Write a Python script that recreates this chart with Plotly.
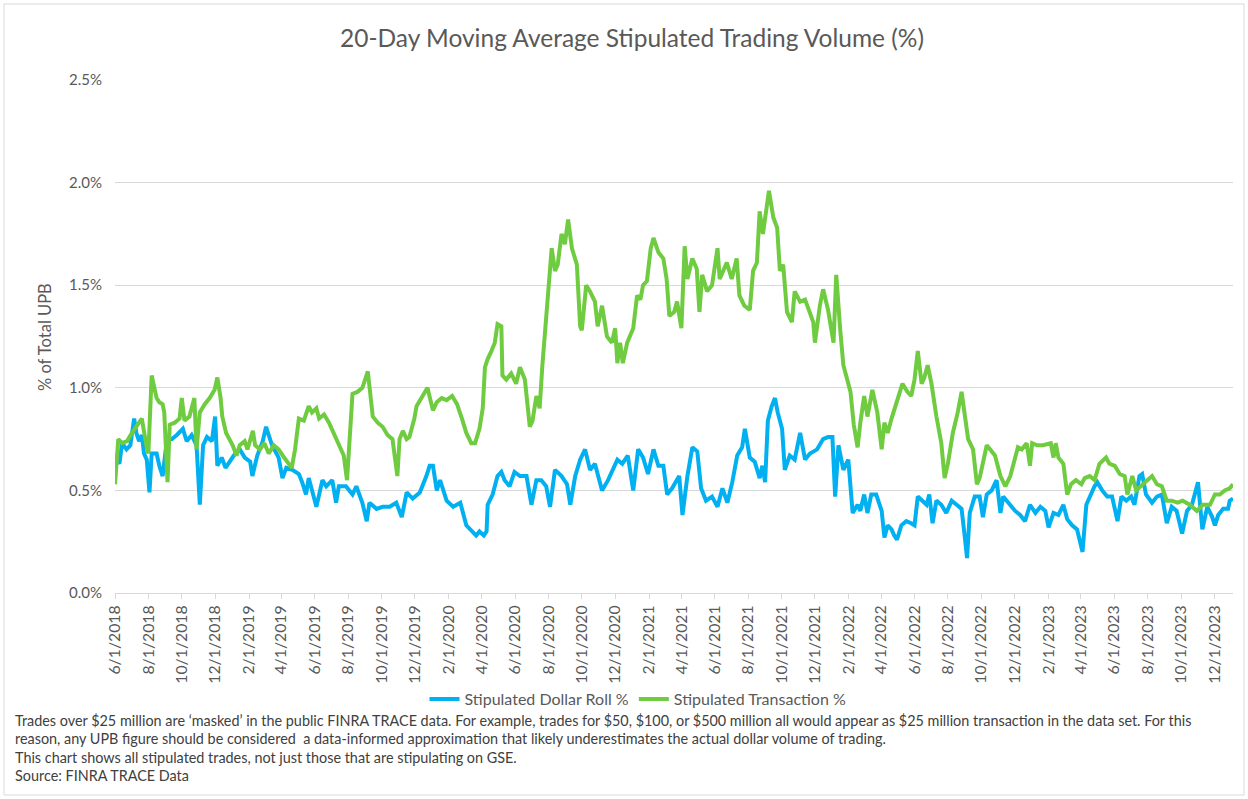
import plotly.graph_objects as go

# ---------------- data (values in %) ----------------
transaction_dates = [
    "2018-06-01","2018-06-07","2018-06-14","2018-06-23","2018-07-02","2018-07-20","2018-07-29","2018-08-01","2018-08-07","2018-08-10","2018-08-16","2018-08-21","2018-08-27","2018-08-30",
    "2018-09-04","2018-09-05","2018-09-09","2018-09-18","2018-09-27","2018-10-01","2018-10-06","2018-10-15","2018-10-24","2018-10-28","2018-11-03","2018-11-12","2018-11-21","2018-11-30",
    "2018-12-05","2018-12-11","2018-12-14","2018-12-21",
    "2019-01-02","2019-01-09","2019-01-15","2019-01-24","2019-01-29","2019-02-08","2019-02-12","2019-02-21","2019-03-01","2019-03-09","2019-03-18","2019-03-27",
    "2019-04-06","2019-04-15","2019-04-20","2019-04-26","2019-05-03","2019-05-12","2019-05-21","2019-05-27","2019-06-04","2019-06-09","2019-06-18","2019-06-27",
    "2019-07-06","2019-07-15","2019-07-24","2019-07-30","2019-08-03","2019-08-09","2019-08-18","2019-08-27","2019-09-06","2019-09-11","2019-09-15","2019-09-24",
    "2019-10-03","2019-10-12","2019-10-21","2019-10-30","2019-11-03","2019-11-09","2019-11-16","2019-11-21","2019-11-30","2019-12-04","2019-12-13","2019-12-24",
    "2020-01-03","2020-01-10","2020-01-19","2020-01-28","2020-02-07","2020-02-16","2020-02-25","2020-03-04","2020-03-13","2020-03-20","2020-03-28",
    "2020-04-03","2020-04-07","2020-04-12","2020-04-19","2020-04-25","2020-04-30","2020-05-07","2020-05-09","2020-05-16","2020-05-25",
    "2020-06-03","2020-06-10","2020-06-19","2020-06-28","2020-07-03","2020-07-10","2020-07-16","2020-07-21","2020-07-25","2020-07-30",
    "2020-08-07","2020-08-13","2020-08-18","2020-08-25","2020-08-31","2020-09-06","2020-09-13","2020-09-22","2020-09-28",
    "2020-10-01","2020-10-09","2020-10-16","2020-10-25","2020-10-30","2020-11-07","2020-11-16","2020-11-25","2020-12-01","2020-12-05","2020-12-10","2020-12-15","2020-12-23",
    "2021-01-03","2021-01-10","2021-01-16","2021-01-21","2021-01-28","2021-02-04","2021-02-09","2021-02-18","2021-02-27","2021-03-05","2021-03-10","2021-03-19","2021-03-24",
    "2021-04-01","2021-04-07","2021-04-12","2021-04-21","2021-04-29","2021-05-04","2021-05-09","2021-05-18","2021-05-27","2021-06-06","2021-06-10","2021-06-23",
    "2021-07-02","2021-07-11","2021-07-16","2021-07-25","2021-08-04","2021-08-10","2021-08-17","2021-08-22","2021-08-28","2021-09-05","2021-09-08","2021-09-16","2021-09-23","2021-09-28",
    "2021-10-04","2021-10-11","2021-10-20","2021-10-25","2021-11-04","2021-11-13","2021-11-22","2021-11-28","2021-12-01","2021-12-10","2021-12-16","2021-12-25",
    "2022-01-04","2022-01-09","2022-01-16","2022-01-22","2022-01-29","2022-02-04","2022-02-10","2022-02-17","2022-02-22","2022-03-01","2022-03-07","2022-03-16","2022-03-25",
    "2022-04-02","2022-04-07","2022-04-13","2022-04-20","2022-04-29","2022-05-10","2022-05-19","2022-05-26","2022-06-01","2022-06-07","2022-06-14","2022-06-19","2022-06-25",
    "2022-07-02","2022-07-11","2022-07-20","2022-07-26","2022-08-01","2022-08-10","2022-08-19","2022-08-26","2022-09-01","2022-09-07","2022-09-16","2022-09-23","2022-09-28",
    "2022-10-04","2022-10-11","2022-10-17","2022-10-26","2022-11-05","2022-11-14","2022-11-23","2022-12-02","2022-12-07","2022-12-14","2022-12-23","2022-12-29",
    "2023-01-02","2023-01-11","2023-01-22","2023-02-05","2023-02-10","2023-02-14","2023-02-19","2023-02-28","2023-03-07","2023-03-14","2023-03-23",
    "2023-04-02","2023-04-08","2023-04-17","2023-04-26","2023-05-05","2023-05-17","2023-05-23","2023-06-02","2023-06-11","2023-06-20","2023-06-25",
    "2023-07-04","2023-07-11","2023-07-20","2023-07-29","2023-08-09","2023-08-18","2023-08-27","2023-09-05","2023-09-14","2023-09-25",
    "2023-10-04","2023-10-17","2023-10-30","2023-11-10","2023-11-23","2023-12-02","2023-12-11","2023-12-20","2023-12-29","2024-01-04",
]
transaction_pct = [
    0.53,0.75,0.73,0.74,0.78,0.85,0.71,0.68,1.06,1.02,0.95,0.93,0.92,0.88,
    0.60,0.54,0.82,0.83,0.85,0.95,0.84,0.86,0.95,0.70,0.88,0.92,0.95,0.99,
    1.05,0.95,0.86,0.78,
    0.72,0.67,0.72,0.74,0.70,0.79,0.72,0.70,0.73,0.68,0.72,0.70,
    0.66,0.63,0.61,0.70,0.85,0.84,0.91,0.88,0.90,0.85,0.87,0.83,
    0.78,0.73,0.67,0.55,0.75,0.97,0.98,1.00,1.08,0.96,0.86,0.83,
    0.81,0.77,0.75,0.57,0.75,0.79,0.75,0.76,0.85,0.91,0.95,1.00,
    0.89,0.93,0.95,0.94,0.96,0.92,0.85,0.78,0.73,0.73,0.80,
    0.90,1.10,1.14,1.18,1.22,1.31,1.30,1.06,1.04,1.07,
    1.02,1.10,1.04,0.81,0.84,0.96,0.90,1.11,1.24,1.40,
    1.68,1.57,1.60,1.75,1.70,1.82,1.68,1.60,1.30,
    1.28,1.50,1.47,1.42,1.30,1.40,1.25,1.22,1.29,1.12,1.22,1.12,1.22,
    1.29,1.45,1.43,1.50,1.52,1.68,1.73,1.66,1.63,1.53,1.35,1.37,1.42,
    1.29,1.69,1.53,1.63,1.58,1.37,1.55,1.47,1.50,1.68,1.53,1.61,
    1.53,1.63,1.45,1.40,1.38,1.57,1.61,1.86,1.75,1.90,1.96,1.83,1.78,1.57,
    1.60,1.37,1.32,1.47,1.42,1.43,1.37,1.32,1.22,1.40,1.48,1.38,
    1.22,1.55,1.29,1.11,1.04,0.98,0.82,0.71,0.83,0.96,0.86,0.99,0.88,
    0.70,0.83,0.78,0.85,0.92,1.02,0.98,0.96,1.04,1.18,1.02,1.05,1.11,
    1.02,0.86,0.73,0.56,0.63,0.78,0.88,0.98,0.88,0.75,0.70,0.53,0.56,
    0.63,0.72,0.70,0.67,0.57,0.52,0.57,0.65,0.71,0.70,0.73,0.62,
    0.73,0.72,0.72,0.73,0.66,0.73,0.66,0.63,0.48,0.53,0.55,
    0.53,0.56,0.57,0.55,0.63,0.66,0.63,0.62,0.58,0.57,0.48,
    0.57,0.50,0.52,0.54,0.57,0.53,0.52,0.45,0.45,0.44,
    0.45,0.43,0.40,0.43,0.43,0.48,0.48,0.50,0.51,0.53,
]

dollar_roll_dates = [
    "2018-06-01","2018-06-09","2018-06-14","2018-06-22","2018-06-29","2018-07-06","2018-07-10","2018-07-15","2018-07-20","2018-07-24","2018-07-29",
    "2018-08-03","2018-08-07","2018-08-16","2018-08-21","2018-08-27","2018-09-04","2018-09-13","2018-09-22","2018-10-03","2018-10-10","2018-10-19","2018-10-28",
    "2018-11-03","2018-11-09","2018-11-16","2018-11-25","2018-12-01","2018-12-05","2018-12-13","2018-12-20","2018-12-27",
    "2019-01-04","2019-01-15","2019-01-24","2019-02-03","2019-02-07","2019-02-16","2019-02-26","2019-03-04","2019-03-15","2019-03-27",
    "2019-04-03","2019-04-10","2019-04-21","2019-05-03","2019-05-09","2019-05-16","2019-05-21","2019-06-04","2019-06-15","2019-06-22",
    "2019-07-03","2019-07-10","2019-07-15","2019-07-28","2019-08-09","2019-08-16","2019-08-27","2019-09-04","2019-09-09","2019-09-22",
    "2019-10-03","2019-10-16","2019-10-28","2019-11-07","2019-11-16","2019-11-27","2019-12-10","2019-12-22","2019-12-28",
    "2020-01-03","2020-01-10","2020-01-16","2020-01-28","2020-02-09","2020-02-22","2020-03-04","2020-03-15","2020-03-22","2020-03-28",
    "2020-04-05","2020-04-10","2020-04-12","2020-04-21","2020-04-30","2020-05-07","2020-05-13","2020-05-22","2020-05-31",
    "2020-06-10","2020-06-22","2020-07-01","2020-07-10","2020-07-19","2020-07-28","2020-08-04","2020-08-13","2020-08-25",
    "2020-09-04","2020-09-10","2020-09-19","2020-09-28","2020-10-07","2020-10-16","2020-10-25","2020-11-07","2020-11-18","2020-12-05","2020-12-14","2020-12-24",
    "2021-01-03","2021-01-12","2021-01-21","2021-01-30","2021-02-09","2021-02-18","2021-02-27","2021-03-06","2021-03-15","2021-03-28",
    "2021-04-03","2021-04-12","2021-04-21","2021-04-30","2021-05-07","2021-05-16","2021-05-27","2021-06-06","2021-06-15","2021-06-24",
    "2021-07-03","2021-07-12","2021-07-21","2021-07-26","2021-08-04","2021-08-13","2021-08-22","2021-08-27",
    "2021-09-01","2021-09-06","2021-09-13","2021-09-19","2021-09-24","2021-10-02","2021-10-07","2021-10-16","2021-10-25",
    "2021-11-04","2021-11-13","2021-11-22","2021-12-05","2021-12-16","2021-12-25",
    "2022-01-02","2022-01-07","2022-01-13","2022-01-22","2022-01-31","2022-02-08","2022-02-17","2022-02-22","2022-03-01","2022-03-07","2022-03-14","2022-03-23",
    "2022-04-02","2022-04-07","2022-04-13","2022-04-20","2022-04-25","2022-04-30","2022-05-08","2022-05-17","2022-05-26",
    "2022-06-01","2022-06-07","2022-06-14","2022-06-23","2022-06-28","2022-07-04","2022-07-11","2022-07-20","2022-07-29",
    "2022-08-08","2022-08-17","2022-08-26","2022-09-01","2022-09-05","2022-09-10","2022-09-19","2022-09-28",
    "2022-10-04","2022-10-11","2022-10-20","2022-10-29","2022-11-05","2022-11-10","2022-11-23","2022-12-02","2022-12-11","2022-12-20","2022-12-29",
    "2023-01-08","2023-01-17","2023-01-26","2023-02-01","2023-02-10","2023-02-19","2023-02-28","2023-03-07","2023-03-16","2023-03-25",
    "2023-04-04","2023-04-11","2023-04-17","2023-04-26","2023-05-01","2023-05-10","2023-05-19","2023-05-28","2023-06-07","2023-06-14","2023-06-23",
    "2023-07-02","2023-07-08","2023-07-17","2023-07-22","2023-07-29","2023-08-09","2023-08-18","2023-08-27","2023-09-05","2023-09-14","2023-09-23",
    "2023-10-03","2023-10-12","2023-10-21","2023-11-01","2023-11-09","2023-11-18","2023-11-27","2023-12-02","2023-12-08","2023-12-17","2023-12-26","2023-12-29","2024-01-04",
]
dollar_roll_pct = [
    0.67,0.63,0.73,0.70,0.72,0.85,0.78,0.74,0.77,0.68,0.65,
    0.49,0.68,0.68,0.62,0.57,0.75,0.75,0.77,0.80,0.74,0.77,0.72,
    0.43,0.72,0.76,0.74,0.86,0.62,0.66,0.61,0.64,
    0.67,0.70,0.66,0.64,0.57,0.67,0.74,0.81,0.72,0.66,
    0.56,0.61,0.60,0.58,0.54,0.48,0.56,0.42,0.55,0.52,
    0.55,0.44,0.52,0.52,0.48,0.52,0.44,0.35,0.44,0.41,
    0.42,0.42,0.44,0.37,0.49,0.46,0.49,0.57,0.62,
    0.62,0.50,0.55,0.45,0.42,0.44,0.33,0.30,0.28,0.30,
    0.28,0.30,0.43,0.48,0.57,0.59,0.55,0.52,0.59,
    0.57,0.57,0.43,0.55,0.55,0.52,0.42,0.60,0.57,
    0.53,0.43,0.57,0.65,0.70,0.60,0.63,0.50,0.55,0.65,0.63,0.67,
    0.50,0.70,0.66,0.58,0.70,0.62,0.62,0.48,0.51,0.57,
    0.38,0.57,0.71,0.69,0.51,0.45,0.47,0.42,0.51,0.44,
    0.54,0.67,0.71,0.80,0.66,0.64,0.56,0.62,
    0.54,0.84,0.91,0.95,0.88,0.80,0.60,0.67,0.65,
    0.78,0.65,0.68,0.70,0.75,0.76,
    0.76,0.47,0.72,0.60,0.65,0.39,0.43,0.40,0.48,0.39,0.48,0.48,
    0.40,0.27,0.33,0.31,0.28,0.26,0.33,0.35,0.34,
    0.33,0.47,0.45,0.43,0.48,0.34,0.45,0.43,0.39,
    0.45,0.43,0.41,0.27,0.17,0.39,0.47,0.47,
    0.37,0.48,0.50,0.55,0.39,0.47,0.43,0.40,0.38,0.35,0.43,
    0.39,0.42,0.40,0.32,0.39,0.38,0.43,0.36,0.33,0.31,
    0.20,0.43,0.47,0.52,0.54,0.50,0.47,0.47,0.35,0.47,0.45,
    0.47,0.43,0.57,0.58,0.48,0.44,0.47,0.48,0.34,0.42,0.40,
    0.29,0.40,0.43,0.54,0.31,0.42,0.37,0.33,0.38,0.41,0.41,0.45,0.46,
]

series_names = ["Stipulated Dollar Roll %", "Stipulated Transaction %"]
title_text = "20-Day Moving Average Stipulated Trading Volume (%)"
y_title = "% of Total UPB"
y_ticks = [0.0, 0.5, 1.0, 1.5, 2.0, 2.5]
y_tick_labels = ["0.0%", "0.5%", "1.0%", "1.5%", "2.0%", "2.5%"]
x_start, x_end = "2018-06-01", "2024-01-04"
footnotes = [
    "Trades over $25 million are \u2018masked\u2019 in the public FINRA TRACE data. For example, trades for $50, $100, or $500 million all would appear as $25 million transaction in the data set. For this",
    "reason, any UPB figure should be considered  a data-informed approximation that likely underestimates the actual dollar volume of trading.",
    "This chart shows all stipulated trades, not just those that are stipulating on GSE.",
    "Source: FINRA TRACE Data",
]

assert len(transaction_dates) == len(transaction_pct)
assert len(dollar_roll_dates) == len(dollar_roll_pct)

# ---------------- figure ----------------
W, H = 1248, 799
L, R, T, B = 115, 15, 80, 206
PW, PH = W - L - R, H - T - B
FONT = "Lato, 'Open Sans', sans-serif"
GREY = "#595959"

def px_x(px):
    return (px - L) / PW

def px_y(py):
    return (H - B - py) / PH

fig = go.Figure()
fig.add_trace(go.Scatter(x=dollar_roll_dates, y=dollar_roll_pct, mode="lines",
                         name=series_names[0], line=dict(color="#00B0F0", width=4)))
fig.add_trace(go.Scatter(x=transaction_dates, y=transaction_pct, mode="lines",
                         name=series_names[1], line=dict(color="#6FCB3F", width=4)))

fig.update_layout(
    width=W, height=H,
    margin=dict(l=L, r=R, t=T, b=B, autoexpand=False),
    paper_bgcolor="white", plot_bgcolor="white",
    font=dict(family=FONT, color=GREY, size=14),
    title=dict(text=title_text, x=632 / W, xanchor="center", xref="container",
               y=1 - 38 / H, yanchor="middle", yref="container",
               font=dict(family=FONT, size=24.5, color=GREY)),
    showlegend=True,
    legend=dict(orientation="h", x=px_x(638), xanchor="center", y=px_y(699), yanchor="middle",
                font=dict(family=FONT, size=16, color=GREY), bgcolor="rgba(0,0,0,0)"),
    xaxis=dict(type="date", range=[x_start, x_end], tick0=x_start, dtick="M2",
               tickformat="%-m/%-d/%Y", tickangle=-90, ticks="outside", ticklen=5,
               tickcolor="#d9d9d9", showline=True, linecolor="#d9d9d9", linewidth=1,
               showgrid=False, zeroline=False, tickfont=dict(family=FONT, size=15.8, color=GREY)),
    yaxis=dict(range=[0, 2.5], tickvals=y_ticks, ticktext=y_tick_labels, showgrid=True,
               gridcolor="#d9d9d9", gridwidth=1, zeroline=False, showline=False, ticks="",
               ticklabelstandoff=12, tickfont=dict(family=FONT, size=15, color=GREY)),
)

fig.add_annotation(text=y_title, xref="paper", yref="paper", x=px_x(45), y=px_y(337),
                   textangle=-90, showarrow=False, xanchor="center", yanchor="middle",
                   font=dict(family=FONT, size=16.5, color=GREY))

for i, line in enumerate(footnotes):
    fig.add_annotation(text=line, xref="paper", yref="paper", x=px_x(13), y=px_y(720 + 18.5 * i),
                       xanchor="left", yanchor="middle", showarrow=False, align="left",
                       font=dict(family=FONT, size=14.4, color="#404040"))

fig.add_shape(type="rect", xref="paper", yref="paper",
              x0=px_x(4), x1=px_x(1244), y0=px_y(795), y1=px_y(4),
              line=dict(color="#d9d9d9", width=1), fillcolor="rgba(0,0,0,0)", layer="below")

fig.write_html("out.html", config={"displayModeBar": False},
               post_script="document.body.style.margin='0';document.body.style.padding='0';")
